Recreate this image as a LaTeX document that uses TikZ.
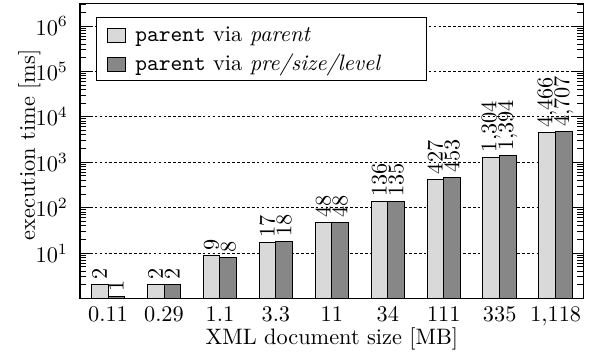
\documentclass[tikz,border=0pt]{standalone}
\begin{document}
\begin{tikzpicture}[x=25.07pt,y=20.34pt,
    lightbar/.style={draw,fill=black!15},
    darkbar/.style={draw,fill=black!47},
    barlabel/.style={rotate=90,anchor=west,inner sep=2pt},
    gridline/.style={dash pattern=on 1.2pt off 1pt}]
  \useasboundingbox (-0.93,-1.313) rectangle (9.613,6.573);
  \foreach \k in {1,...,6}
    \draw[gridline] (0.5,\k) -- (9.5,\k);
  \foreach \i/\s/\a/\b in {1/0.11/2/1, 2/0.29/2/2, 3/1.1/9/8, 4/3.3/17/18, 5/11/48/48,
      6/34/136/135, 7/111/427/453, 8/335/1304/1394, 9/{1{,}118}/4466/4707} {
    \pgfmathsetmacro\ha{max(log10(\a),0.045)}
    \pgfmathsetmacro\hb{max(log10(\b),0.045)}
    \draw[lightbar] (\i-0.3,0) rectangle (\i,\ha);
    \draw[darkbar] (\i,0) rectangle (\i+0.3,\hb);
    \node[barlabel] (la\i) at (\i-0.15,\ha) {\pgfmathprintnumber{\a}};
    \node[barlabel] (lb\i) at (\i+0.15,\hb) {\pgfmathprintnumber{\b}};
    \node[anchor=base] (size\i) at (\i,-0.498) {$\s$};
  }
  \draw[fill=white] (0.798,4.795) rectangle (6.695,6.192);
  \draw[lightbar] (0.982,5.637) rectangle (1.304,5.945);
  \draw[darkbar] (0.982,4.998) rectangle (1.304,5.306);
  \node[anchor=base west,inner sep=0] (leg1) at (1.482,5.654) {\texttt{parent} via \textit{parent}};
  \node[anchor=base west,inner sep=0] (leg2) at (1.482,5.016) {\texttt{parent} via \textit{pre/size/level}};
  \foreach \k in {0,...,6} {
    \foreach \m in {2,...,9} {
      \pgfmathsetmacro\t{\k+log10(\m)}
      \ifdim\t pt<6.5pt
        \draw (0.5,\t) -- ++(0.1cm,0);
        \draw (9.5,\t) -- ++(-0.1cm,0);
      \fi
    }
  }
  \foreach \k in {1,...,6} {
    \draw (0.5,\k) -- ++(0.15cm,0);
    \draw (9.5,\k) -- ++(-0.15cm,0);
    \node[anchor=east,inner sep=0] (ytick\k) at ([xshift=-5.2pt]0.5,\k) {$10^{\k}$};
  }
  \draw[line width=0.5pt] (0.5,0) rectangle (9.5,6.5);
  \node[anchor=base] (xlabel) at (5,-1.025) {XML document size [MB]};
  \node[rotate=90,anchor=base] (ylabel) at (-0.305,3.38) {execution time [ms]};
\end{tikzpicture}
\end{document}
